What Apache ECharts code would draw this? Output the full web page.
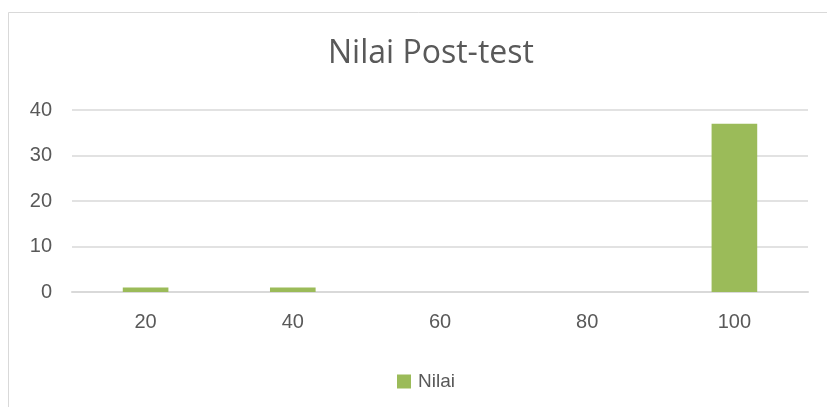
<!DOCTYPE html>
<html>
<head>
<meta charset="utf-8">
<script src="https://cdn.jsdelivr.net/npm/echarts@6/dist/echarts.min.js"></script>
<style>
  html, body { margin: 0; padding: 0; background: #fff; }
  #chart { width: 827px; height: 407px; }
</style>
</head>
<body>
<div id="chart"></div>
<script>
// data
const categories = ['20', '40', '60', '80', '100']
const nilai = [1, 1, 0, 0, 37]
const seriesName = 'Nilai'
const titleText = 'Nilai Post-test'

const font = "'Liberation Sans', 'Open Sans', sans-serif"
const titleFont = "'Open Sans', 'Liberation Sans', sans-serif"
const textColor = '#595959'
const barColor = '#9bbb59'

const chart = echarts.init(document.getElementById('chart'))
chart.setOption({
  backgroundColor: '#fff',
  animation: false,
  title: {
    text: titleText,
    left: 323,
    top: 33,
    textStyle: { color: textColor, fontSize: 32, fontWeight: 'normal', fontFamily: titleFont }
  },
  // chart outline (box runs past the right/bottom edge of the picture)
  graphic: [{
    type: 'rect',
    shape: { x: 8.5, y: 12.5, width: 840, height: 420 },
    style: { fill: 'none', stroke: '#d9d9d9', lineWidth: 1 },
    silent: true
  }],
  legend: {
    data: [seriesName],
    top: 367,
    left: 392,
    itemWidth: 14,
    itemHeight: 14,
    itemGap: 6,
    icon: 'rect',
    textStyle: { color: textColor, fontSize: 19, fontFamily: font, padding: [0, 0, 0, 2] }
  },
  grid: { left: 72, right: 19, top: 110, bottom: 115, containLabel: false },
  xAxis: {
    type: 'category',
    data: categories,
    axisTick: { show: false },
    axisLine: { lineStyle: { color: '#d9d9d9', width: 2 } },
    axisLabel: { color: textColor, fontSize: 20, fontFamily: font, margin: 20 }
  },
  yAxis: {
    type: 'value',
    min: 0,
    max: 40,
    interval: 10,
    axisLine: { show: false },
    axisTick: { show: false },
    axisLabel: { color: textColor, fontSize: 20, fontFamily: font, margin: 20 },
    splitLine: { lineStyle: { color: '#d9d9d9', width: 1.5 } }
  },
  series: [{
    name: seriesName,
    type: 'bar',
    data: nilai,
    barWidth: '31%',
    itemStyle: { color: barColor },
    z: 3
  }]
})
</script>
</body>
</html>
